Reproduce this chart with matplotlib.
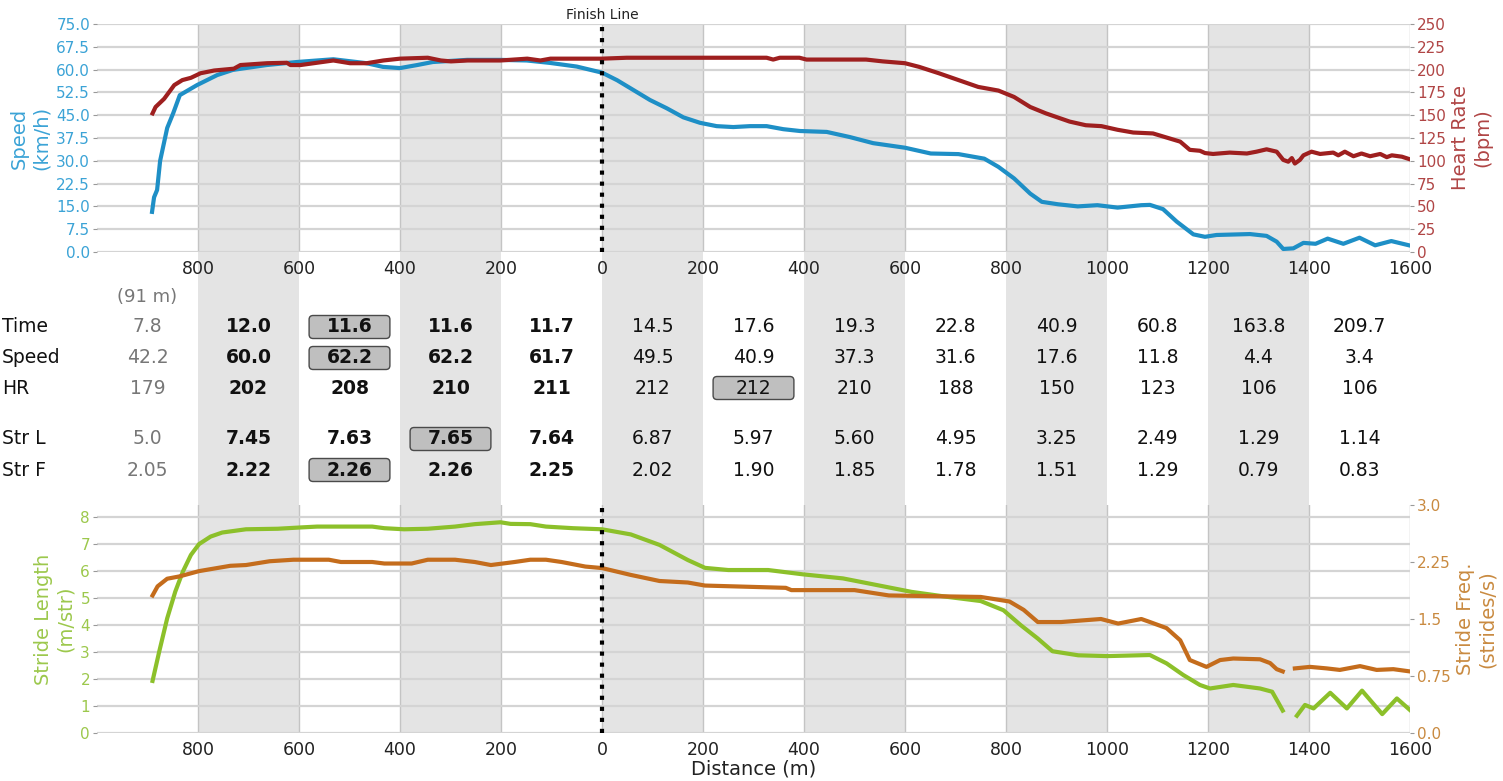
import numpy as np
import matplotlib
matplotlib.use('Agg')
import matplotlib.pyplot as plt
from matplotlib.patches import FancyBboxPatch
from matplotlib.ticker import FuncFormatter

nan = np.nan

# distance (m) relative to the finish line, negative = before the finish
speed_dist = [-891, -887, -881, -875, -861, -849, -836, -802, -762, -731, -664, -604, -532,
              -466, -434, -400, -366, -335, -267, -202, -149, -103, -50, 0, 30, 62, 95, 128,
              161, 194, 227, 260, 293, 326, 359, 392, 445, 491, 537, 600, 651, 706, 757, 785,
              816, 848, 871, 903, 942, 981, 1021, 1068, 1085, 1111, 1138, 1171, 1194, 1217,
              1283, 1316, 1336, 1349, 1369, 1389, 1413, 1437, 1468, 1500, 1531, 1563, 1598]
speed_kmh = [13.2, 18.0, 20.4, 30.0, 40.8, 45.7, 51.6, 54.9, 58.2, 59.9, 61.5, 62.5, 63.4,
             62.1, 60.9, 60.5, 61.5, 62.5, 63.2, 63.2, 63.0, 62.2, 61.0, 59.0, 56.5, 53.3, 50.0,
             47.3, 44.3, 42.5, 41.4, 41.1, 41.4, 41.4, 40.4, 39.8, 39.5, 37.8, 35.8, 34.3, 32.4,
             32.2, 30.7, 28.0, 24.2, 19.2, 16.5, 15.7, 15.0, 15.4, 14.6, 15.4, 15.5, 14.1, 10.0,
             5.8, 5.0, 5.6, 5.9, 5.3, 3.4, 1.0, 1.2, 3.0, 2.7, 4.4, 2.7, 4.7, 2.2, 3.6, 2.2]

hr_dist = [-890, -884, -867, -847, -831, -814, -795, -768, -729, -716, -663, -624, -617, -597,
           -532, -499, -466, -433, -400, -345, -319, -299, -266, -201, -148, -122, -102, 0, 49,
           326, 339, 352, 391, 405, 523, 556, 600, 628, 667, 706, 745, 785, 816, 848, 879, 926,
           958, 989, 1021, 1052, 1091, 1115, 1145, 1164, 1184, 1194, 1210, 1243, 1277, 1296,
           1316, 1336, 1349, 1359, 1366, 1372, 1382, 1389, 1405, 1422, 1448, 1458, 1471, 1488,
           1504, 1521, 1541, 1554, 1564, 1584, 1600]
hr_bpm = [152, 159, 168, 183, 188.5, 191, 196, 199, 201, 205, 207, 207.5, 205, 205, 210, 207,
          207, 210, 212, 213, 210, 209, 210, 210, 212, 210, 212, 212, 213, 213, 211, 213, 213,
          211, 211, 209, 207, 203, 196, 188.5, 181, 177, 170, 159, 152, 143, 139, 138, 134, 131,
          130, 126, 121, 112, 111, 108.5, 107.5, 109, 108, 110, 112.6, 110, 101, 99, 103, 97,
          101, 106, 110, 107.5, 109, 106, 110, 105, 108, 105, 107.5, 104, 106, 104.5, 101.6]

stride_dist = [-890, -877, -861, -845, -830, -814, -798, -775, -752, -705, -642, -595, -564,
               -455, -431, -392, -345, -291, -252, -201, -181, -142, -111, -57, 0, 57, 114, 170,
               204, 250, 329, 398, 477, 545, 613, 682, 750, 795, 829, 863, 892, 943, 1000, 1085,
               1118, 1151, 1184, 1204, 1250, 1303, 1327, 1340, 1348, 1362, 1376, 1392, 1409,
               1442, 1475, 1505, 1545, 1574, 1600]
stride_len = [1.93, 3.0, 4.25, 5.24, 5.98, 6.6, 7.0, 7.28, 7.43, 7.55, 7.57, 7.62, 7.65, 7.65,
              7.59, 7.55, 7.57, 7.65, 7.74, 7.81, 7.75, 7.74, 7.65, 7.59, 7.55, 7.36, 6.97, 6.41,
              6.12, 6.04, 6.04, 5.88, 5.73, 5.48, 5.23, 5.05, 4.89, 4.55, 4.0, 3.5, 3.03, 2.88,
              2.85, 2.89, 2.58, 2.15, 1.78, 1.65, 1.78, 1.65, 1.53, 1.1, 0.83, nan, 0.64, 1.04,
              0.91, 1.49, 0.91, 1.57, 0.70, 1.28, 0.85]

freq_dist = [-890, -880, -861, -837, -798, -736, -705, -658, -611, -541, -517, -455, -431,
             -377, -345, -291, -252, -220, -173, -142, -111, -80, -33, 0, 57, 114, 170, 204,
             364, 375, 500, 568, 750, 807, 835, 863, 909, 988, 1022, 1068, 1085, 1118, 1145,
             1164, 1197, 1224, 1250, 1303, 1323, 1336, 1348, 1360, 1372, 1402, 1435, 1461,
             1501, 1534, 1567, 1600]
stride_freq = [1.81, 1.93, 2.03, 2.06, 2.13, 2.20, 2.21, 2.26, 2.28, 2.28, 2.25, 2.25, 2.23,
               2.23, 2.28, 2.28, 2.25, 2.21, 2.25, 2.28, 2.28, 2.25, 2.19, 2.17, 2.08, 2.0, 1.98,
               1.94, 1.91, 1.88, 1.88, 1.81, 1.79, 1.73, 1.62, 1.46, 1.46, 1.50, 1.44, 1.50,
               1.46, 1.38, 1.22, 0.96, 0.87, 0.96, 0.98, 0.97, 0.92, 0.84, 0.81, nan, 0.85,
               0.87, 0.85, 0.83, 0.88, 0.83, 0.84, 0.81]

# split table
col_pos = [-900, -700, -500, -300, -100, 100, 300, 500, 700, 900, 1100, 1300, 1500]
row_names = ['Time', 'Speed', 'HR', 'Str L', 'Str F']
time_vals = ['7.8', '12.0', '11.6', '11.6', '11.7', '14.5', '17.6', '19.3', '22.8', '40.9',
             '60.8', '163.8', '209.7']
speed_vals = ['42.2', '60.0', '62.2', '62.2', '61.7', '49.5', '40.9', '37.3', '31.6', '17.6',
              '11.8', '4.4', '3.4']
hr_vals = ['179', '202', '208', '210', '211', '212', '212', '210', '188', '150', '123', '106',
           '106']
strl_vals = ['5.0', '7.45', '7.63', '7.65', '7.64', '6.87', '5.97', '5.60', '4.95', '3.25',
             '2.49', '1.29', '1.14']
strf_vals = ['2.05', '2.22', '2.26', '2.26', '2.25', '2.02', '1.90', '1.85', '1.78', '1.51',
             '1.29', '0.79', '0.83']
best_idx = [2, 2, 6, 3, 2]
first_note = '(91 m)'

c_speed, c_speed_t = '#1e8fc6', '#3ba3d6'
c_hr, c_hr_t = '#9e1f1f', '#b04545'
c_sl, c_sl_t = '#8cc02a', '#9cc84c'
c_sf, c_sf_t = '#c46c1c', '#c98a40'

plt.rcParams['font.family'] = 'DejaVu Sans'
fig = plt.figure(figsize=(15.03, 7.81), dpi=100)

L, W = 97 / 1503, 1313 / 1503
H = 228 / 781

# background axis: bands + table, y in pixel rows
bg = fig.add_axes([L, 48 / 781, W, 709 / 781])
bg.set_xlim(-1000, 1600)
bg.set_ylim(733, 24)
bg.axis('off')
for s in range(-800, 1600, 400):
    bg.axvspan(s, s + 200, color='#e4e4e4', zorder=0, lw=0)

row_y = [327, 358, 388, 439, 470]
bg.text(col_pos[0], 297, first_note, ha='center', va='center', fontsize=13, color='#777777')
rows = [time_vals, speed_vals, hr_vals, strl_vals, strf_vals]
for name, y, vals, bi in zip(row_names, row_y, rows, best_idx):
    bg.text(-1188, y, name, ha='left', va='center', fontsize=13.5, color='#111111')
    for i, (x, v) in enumerate(zip(col_pos, vals)):
        col = '#777777' if i == 0 else '#111111'
        wt = 'bold' if 1 <= i <= 4 else 'normal'
        if i == bi:
            bg.add_patch(FancyBboxPatch((x - 80, y - 11.5), 160, 23,
                                        boxstyle='round,pad=0,rounding_size=8',
                                        mutation_aspect=0.5, fc='#bfbfbf', ec='#4a4a4a',
                                        lw=1, zorder=2))
        bg.text(x, y, v, ha='center', va='center', fontsize=13.5, color=col,
                fontweight=wt, zorder=3)

fmt = FuncFormatter(lambda v, p: f'{abs(v):.0f}')
xt = np.arange(-800, 1601, 200)


def style(ax, axr, lc, rc):
    ax.set_facecolor('none')
    ax.set_xlim(-1000, 1600)
    ax.set_xticks(xt)
    ax.xaxis.set_major_formatter(fmt)
    for a in (ax, axr):
        for sp in a.spines.values():
            sp.set_visible(False)
    ax.tick_params(axis='x', length=0, labelsize=12.5, labelcolor='#222222', pad=6)
    ax.tick_params(axis='y', length=3, color='#999999', labelsize=11, labelcolor=lc, pad=2)
    axr.tick_params(axis='y', length=3, color='#999999', labelsize=11, labelcolor=rc, pad=2)
    ax.grid(axis='y', color='#d4d4d4', lw=1.6)
    ax.grid(axis='x', color='#c4c4c4', lw=1)
    ax.set_axisbelow(True)


# top panel
ax1 = fig.add_axes([L, 1 - 252 / 781, W, H])
ax1r = ax1.twinx()
style(ax1, ax1r, c_speed_t, c_hr_t)
ax1.plot(speed_dist, speed_kmh, color=c_speed, lw=3)
ax1r.plot(hr_dist, hr_bpm, color=c_hr, lw=3)
ax1.set_ylim(0, 75)
ax1.set_yticks(np.arange(0, 75.1, 7.5))
ax1.yaxis.set_major_formatter(FuncFormatter(lambda v, p: f'{v:.1f}'))
ax1r.set_ylim(0, 250)
ax1r.set_yticks(np.arange(0, 251, 25))
ax1.set_ylabel('Speed\n(km/h)', color=c_speed_t, fontsize=14, labelpad=4)
ax1r.set_ylabel('Heart Rate\n(bpm)', color=c_hr_t, fontsize=14, labelpad=4)
ax1r.axvline(0, color='black', ls=':', lw=3, zorder=5)
ax1.text(0, 1.01, 'Finish Line', transform=ax1.get_xaxis_transform(), ha='center',
         va='bottom', fontsize=10, color='#222222')

# bottom panel
ax2 = fig.add_axes([L, 48 / 781, W, H])
ax2r = ax2.twinx()
style(ax2, ax2r, c_sl_t, c_sf_t)
ax2.plot(stride_dist, stride_len, color=c_sl, lw=3)
ax2r.plot(freq_dist, stride_freq, color=c_sf, lw=3)
ax2.set_ylim(0, 8.45)
ax2.set_yticks(range(0, 9))
ax2r.set_ylim(0, 3.0)
ax2r.set_yticks([0, 0.75, 1.5, 2.25, 3.0])
ax2r.set_yticklabels(['0.0', '0.75', '1.5', '2.25', '3.0'])
ax2.set_ylabel('Stride Length\n(m/str)', color=c_sl_t, fontsize=14, labelpad=4)
ax2r.set_ylabel('Stride Freq.\n(strides/s)', color=c_sf_t, fontsize=14, labelpad=4)
ax2.set_xlabel('Distance (m)', fontsize=14, color='#222222', labelpad=0)
ax2r.axvline(0, color='black', ls=':', lw=3, zorder=5)

fig.savefig('out.png', dpi=100)
